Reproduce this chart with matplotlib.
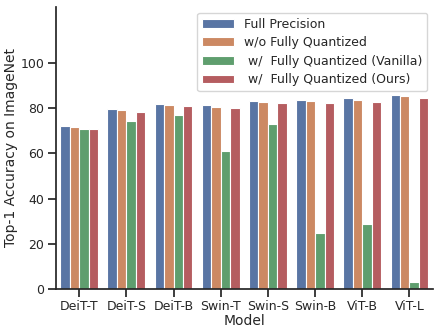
import numpy as np
import matplotlib
matplotlib.use("Agg")
import matplotlib.pyplot as plt
import seaborn as sns

models = ["DeiT-T", "DeiT-S", "DeiT-B", "Swin-T", "Swin-S", "Swin-B", "ViT-B", "ViT-L"]
full_precision = [72.2, 79.8, 81.8, 81.3, 83.1, 83.6, 84.4, 85.8]
wo_fq = [71.6, 79.2, 81.3, 80.7, 82.8, 83.1, 83.6, 85.3]
fq_vanilla = [70.9, 74.5, 76.9, 61.3, 73.2, 24.7, 28.9, 3.1]
fq_ours = [70.8, 78.4, 80.9, 80.0, 82.4, 82.4, 82.7, 84.7]
series_names = ["Full Precision", "w/o Fully Quantized",
                " w/  Fully Quantized (Vanilla)", " w/  Fully Quantized (Ours)"]

sns.set_theme(style="ticks")
# barplot-style muted colours
colors = [sns.desaturate(c, 0.75) for c in sns.color_palette("deep")[:4]]

fig = plt.figure(figsize=(4.41, 3.34), dpi=100)
ax = fig.add_axes([0.126, 0.135, 0.856, 0.845])

x = np.arange(len(models))
w = 0.2
for i, (vals, name) in enumerate(zip([full_precision, wo_fq, fq_vanilla, fq_ours], series_names)):
    ax.bar(x + (i - 1.5) * w, vals, w, color=colors[i], edgecolor="white",
           linewidth=0.8, label=name)

ax.set_xlim(-0.5, len(models) - 0.5)
ax.set_ylim(0, 125)
ax.set_yticks([0, 20, 40, 60, 80, 100])
ax.set_xticks(x)
ax.set_xticklabels(models)
ax.tick_params(labelsize=9, pad=2)
ax.set_xlabel("Model", fontsize=10, labelpad=1)
ax.set_ylabel("Top-1 Accuracy on ImageNet", fontsize=10, labelpad=2)
sns.despine(ax=ax)
ax.legend(loc="upper right", fontsize=9, frameon=True, handlelength=2.5,
          labelspacing=0.45, borderpad=0.4, borderaxespad=0,
          bbox_to_anchor=(0.984, 0.979))

fig.savefig("out.png", dpi=100)
